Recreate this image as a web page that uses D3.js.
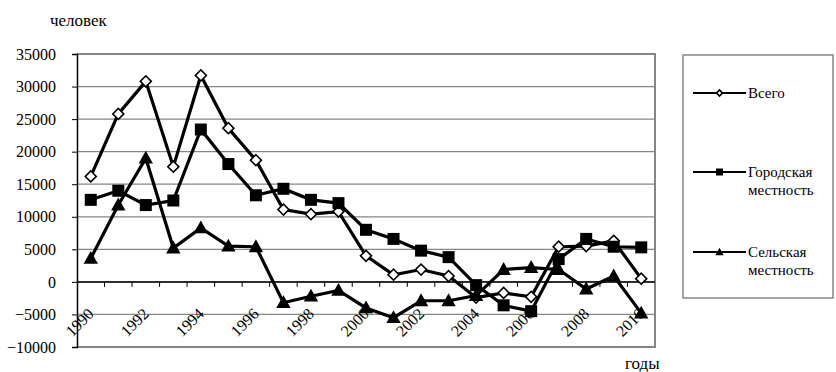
<!DOCTYPE html>
<html><head><meta charset="utf-8">
<script src="https://cdn.jsdelivr.net/npm/d3@7"></script>
<style>
body{margin:0;background:#fff;}
</style></head>
<body><svg id="c" width="836" height="372" style="font-family:'Liberation Serif','Times New Roman',Times,'DejaVu Serif','Noto Serif',serif"></svg>
<script>
const years = d3.range(1990, 2011).map(String);
const tickYears = ["1990","1992","1994","1996","1998","2000","2002","2004","2006","2008","2010"];
const yTicks = [-10000,-5000,0,5000,10000,15000,20000,25000,30000,35000];
const total = [16200,25800,30800,17700,31700,23600,18700,11100,10400,10800,4000,1100,1900,900,-2400,-1700,-2300,5400,5500,6300,500];
const urban = [12600,14000,11800,12500,23400,18100,13300,14300,12600,12100,8000,6600,4800,3800,-500,-3600,-4500,3500,6600,5400,5300];
const rural = [3600,11800,19000,5200,8300,5500,5400,-3200,-2200,-1300,-4000,-5500,-2900,-2900,-2100,1900,2200,1900,-1100,900,-4800];
const seriesNames = ["Всего","Городская местность","Сельская местность"];
const yTitle = "человек", xTitle = "годы";

const FONT = "'Liberation Serif','Times New Roman',Times,'DejaVu Serif','Noto Serif',serif";
const svg = d3.select("#c");
const L=77, R=655, T=54, B=347;
const x = d3.scaleBand().domain(years).range([L,R]);
const y = d3.scaleLinear().domain([-10000,35000]).range([B,T]);

svg.append("g").selectAll("line").data(yTicks).join("line")
  .attr("x1",L).attr("x2",R).attr("y1",d=>y(d)).attr("y2",d=>y(d))
  .attr("stroke","#868686").attr("stroke-width",1.2);
svg.append("path").attr("d",`M${L},${T}H${R}V${B}H${L}`).attr("fill","none")
  .attr("stroke","#868686").attr("stroke-width",2);

const ya = svg.append("g").attr("transform",`translate(${L},0)`)
  .call(d3.axisLeft(y).tickValues(yTicks).tickSize(5).tickPadding(16).tickFormat(d3.format("d")));
ya.attr("font-family",null).attr("font-size",null);
ya.select(".domain").attr("stroke","#000").attr("stroke-width",1.5);
ya.selectAll(".tick line").attr("stroke","#000");
ya.selectAll("text").style("font-size","16px").style("font-family",FONT).attr("fill","#000");

const y0 = y(0);
const xa = svg.append("g").attr("transform",`translate(0,${y0})`);
xa.append("line").attr("x1",L).attr("x2",R).attr("stroke","#000").attr("stroke-width",1.5);
xa.selectAll("line.t").data(years.slice(1)).join("line").attr("class","t")
  .attr("x1",d=>x(d)).attr("x2",d=>x(d)).attr("y1",0).attr("y2",5).attr("stroke","#000");
xa.selectAll("text").data(tickYears).join("text")
  .attr("transform",d=>`translate(${x(d)+x.bandwidth()/2+4},${33}) rotate(-45)`)
  .attr("text-anchor","end").style("font-size","16px").style("font-family",FONT).text(d=>d);

const cx = (d,i)=>x(years[i])+x.bandwidth()/2;
const line = d3.line().x(cx).y(d=>y(d));
function marker(g, type, size){
  if(type===0) g.append("path").attr("d",d3.symbol(d3.symbolSquare,size*size*0.5)())
      .attr("transform","rotate(45)").attr("fill","#fff").attr("stroke","#000").attr("stroke-width",1.6);
  else if(type===1) g.append("rect").attr("x",-size/2).attr("y",-size/2).attr("width",size).attr("height",size).attr("fill","#000");
  else g.append("path").attr("d",`M0,${-size*0.62}L${size*0.6},${size*0.45}L${-size*0.6},${size*0.45}Z`).attr("fill","#000");
}
[[total,0],[urban,1],[rural,2]].forEach(([s,t])=>{
  svg.append("path").datum(s).attr("d",line).attr("fill","none")
    .attr("stroke","#000").attr("stroke-width",3.2).attr("stroke-linejoin","miter");
  svg.append("g").selectAll("g").data(s).join("g")
    .attr("transform",(d,i)=>`translate(${cx(d,i)},${y(d)})`)
    .each(function(){ marker(d3.select(this), t, t===0?11:12); });
});

svg.append("text").attr("x",50).attr("y",26).style("font-size","17px").style("font-family",FONT).text(yTitle);
svg.append("text").attr("x",625).attr("y",369).style("font-size","17px").style("font-family",FONT).text(xTitle);

const lg = svg.append("g");
lg.append("rect").attr("x",683).attr("y",55).attr("width",150).attr("height",243)
  .attr("fill","#fff").attr("stroke","#868686").attr("stroke-width",1.5);
const ly = [93,172,252];
seriesNames.forEach((n,i)=>{
  const g = lg.append("g").attr("transform",`translate(0,${ly[i]})`);
  g.append("line").attr("x1",693).attr("x2",746).attr("stroke","#000").attr("stroke-width",2.2);
  const m = g.append("g").attr("transform","translate(719.5,0)");
  marker(m, i, i===0?6:7);
  const parts = n.split(" ");
  const t = g.append("text").attr("x",748).style("font-size","15px").style("font-family",FONT);
  parts.forEach((p,j)=>t.append("tspan").attr("x",748).attr("dy",j===0?5:18).text(p));
});
</script></body></html>
